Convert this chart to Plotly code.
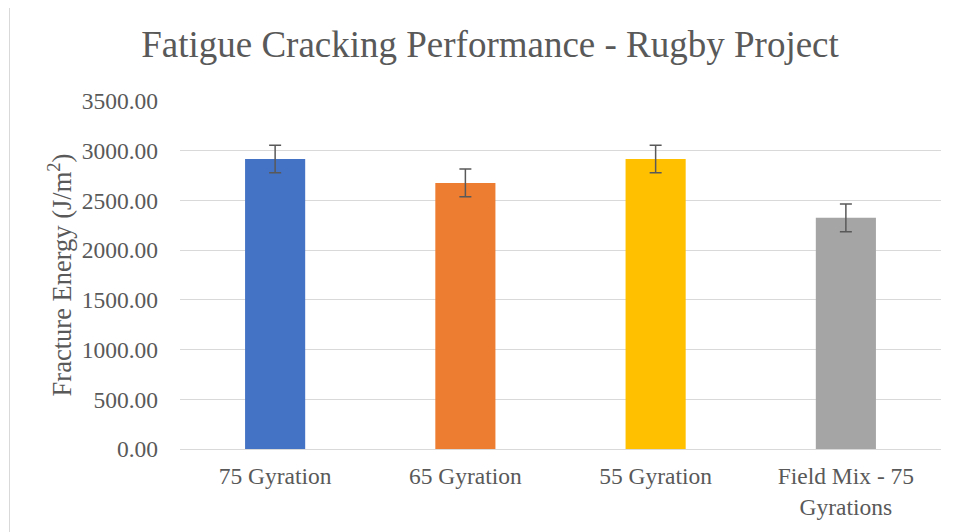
import plotly.graph_objects as go

categories = ["75 Gyration", "65 Gyration", "55 Gyration", "Field Mix - 75<br>Gyrations"]
fracture_energy = [2917, 2676, 2917, 2325]
error_values = [139, 139, 139, 139]
bar_colors = ["#4472C4", "#ED7D31", "#FFC000", "#A5A5A5"]
y_ticks = [0, 500, 1000, 1500, 2000, 2500, 3000, 3500]

FONT = "Liberation Serif, Times New Roman, serif"
TXT = "#595959"

# page body adds an 8px offset; compensate
OFF = 8
W, H = 958, 532
L = 180 - OFF
T = 101 - OFF
B = H - (449.3 - OFF)
R = W - (941 - OFF)
pw = W - L - R
ph = H - T - B

fig = go.Figure()
fig.add_trace(go.Bar(
    x=categories,
    y=fracture_energy,
    marker=dict(color=bar_colors, line=dict(width=0)),
    error_y=dict(type="data", array=error_values, visible=True,
                 color="#595959", thickness=1.5, width=6),
    width=0.316,
))

fig.update_layout(
    width=W, height=H,
    margin=dict(l=L, r=R, t=T, b=B, pad=0),
    paper_bgcolor="white",
    plot_bgcolor="white",
    showlegend=False,
    font=dict(family=FONT, color=TXT, size=23.5),
    title=dict(text="Fatigue Cracking Performance - Rugby Project",
               x=(490 - OFF) / W, xanchor="center", xref="container",
               y=1 - (44 - OFF) / H, yanchor="middle", yref="container",
               font=dict(family=FONT, size=37, color=TXT)),
    xaxis=dict(showgrid=False, showline=True, linecolor="#d9d9d9", linewidth=1,
               ticks="", tickfont=dict(family=FONT, size=23.5, color=TXT),
               ticklabelstandoff=6),
    yaxis=dict(range=[0, 3500], tickvals=y_ticks, tickformat=".2f",
               showgrid=True, gridcolor="#d9d9d9", gridwidth=1,
               zeroline=False, showline=False, ticks="",
               ticklabelstandoff=21,
               tickfont=dict(family=FONT, size=23.5, color=TXT),
               title=dict(text="Fracture Energy (J/m<sup>2</sup>)", standoff=2,
                          font=dict(family=FONT, size=26.5, color=TXT))),
    shapes=[dict(type="rect", xref="paper", yref="paper",
                 x0=(9.5 - OFF - L) / pw, x1=(W + 5 - L) / pw,
                 y0=(H - B - (H + 5)) / ph, y1=(H - B - (5.5 - OFF)) / ph,
                 line=dict(color="#d9d9d9", width=1), fillcolor="rgba(0,0,0,0)",
                 layer="below")],
)

fig.write_html("out.html")
